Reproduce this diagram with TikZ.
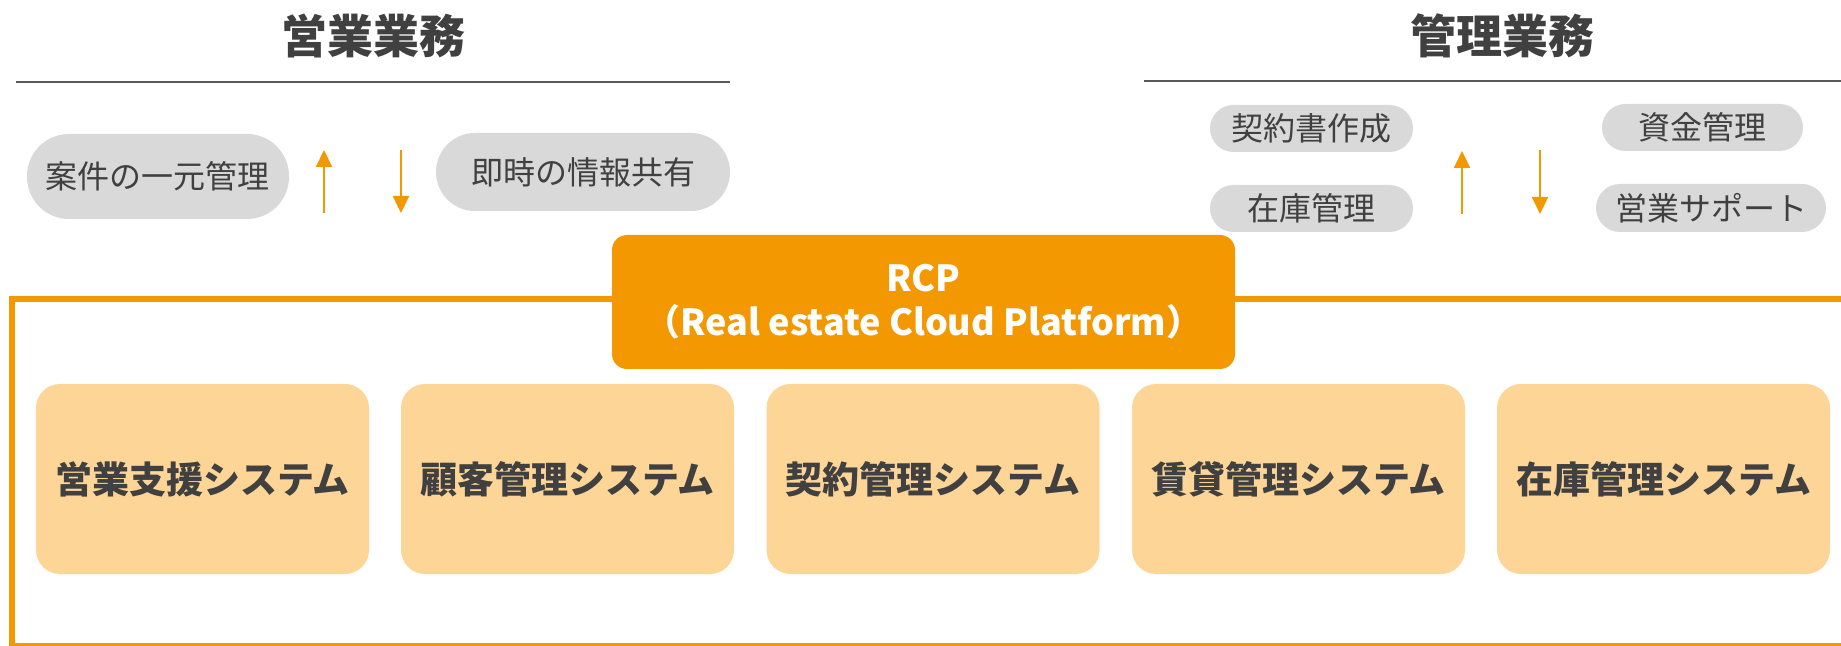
\documentclass[tikz,border=0pt]{standalone}
\usepackage{fontspec}
\setmainfont{Noto Sans CJK JP}
\newfontfamily\jp{Noto Sans CJK JP}
\usetikzlibrary{arrows.meta}
\definecolor{rorange}{HTML}{F39800}
\definecolor{rlight}{HTML}{FDD596}
\definecolor{rgray}{HTML}{D9D9D9}
\definecolor{rtext}{HTML}{404040}
\definecolor{rline}{HTML}{595959}
\begin{document}
\begin{tikzpicture}[x=0.5pt,y=-0.5pt,
  titletext/.style={font=\jp\bfseries\fontsize{23pt}{27pt}\selectfont, text=rtext, inner sep=0pt},
  rule/.style={draw=rline, line width=1pt},
  pill/.style={fill=rgray, text=rtext, font=\jp\fontsize{16pt}{19pt}\selectfont, inner sep=0pt, rounded corners=#1},
  arr/.style={draw=rorange, line width=1pt, -{Triangle[width=8pt,length=8.5pt]}},
  rcpbox/.style={fill=rorange, text=white, font=\jp\bfseries\fontsize{18pt}{22pt}\selectfont, align=center, inner sep=0pt, rounded corners=7.5pt, minimum width=311.5pt, minimum height=67pt},
  sysbox/.style={fill=rlight, text=rtext, font=\jp\bfseries\fontsize{18.5pt}{22pt}\selectfont, inner sep=0pt, rounded corners=12pt, minimum width=166.5pt, minimum height=95pt},
  frame/.style={draw=rorange, line width=2.8pt}
]
\useasboundingbox (0,0) rectangle (1841,646);
% titles
\node[titletext] (t1) at (373,36) {営業業務};
\node[titletext] (t2) at (1502,36) {管理業務};
\coordinate (r1a) at (16,82); \coordinate (r1b) at (730,82);
\coordinate (r2a) at (1144,81); \coordinate (r2b) at (1841,81);
\draw[rule] (r1a) -- (r1b);
\draw[rule] (r2a) -- (r2b);
% left pills
\node[pill=21pt, minimum width=131pt, minimum height=42.5pt] (p1) at (158,176.5) {案件の一元管理};
\node[pill=19.5pt, minimum width=147pt, minimum height=39pt] (p2) at (583,172) {即時の情報共有};
% right pills
\node[pill=11.75pt, minimum width=101.5pt, minimum height=23.5pt] (p3) at (1311.5,128.5) {契約書作成};
\node[pill=11.75pt, minimum width=100.5pt, minimum height=23.5pt] (p4) at (1702.5,127.5) {資金管理};
\node[pill=11.75pt, minimum width=101.5pt, minimum height=23.5pt] (p5) at (1311.5,208.5) {在庫管理};
\node[pill=12pt, minimum width=115pt, minimum height=24pt] (p6) at (1711,208) {営業サポート};
% arrows
\coordinate (a1s) at (324,213); \coordinate (a1e) at (324,150);
\coordinate (a2s) at (401,150); \coordinate (a2e) at (401,213);
\coordinate (a3s) at (1462,214); \coordinate (a3e) at (1462,151);
\coordinate (a4s) at (1540,150); \coordinate (a4e) at (1540,214);
\draw[arr] (a1s) -- (a1e);
\draw[arr] (a2s) -- (a2e);
\draw[arr] (a3s) -- (a3e);
\draw[arr] (a4s) -- (a4e);
% frame
\coordinate (f1) at (1850,299); \coordinate (f2) at (12,299);
\coordinate (f3) at (12,646); \coordinate (f4) at (1850,646);
\draw[frame] (f1) -- (f2) -- (f3) -- (f4);
% RCP
\node[rcpbox] (rcp) at (923.5,302) {RCP\\（Real estate Cloud Platform）};
% systems
\node[sysbox] (s1) at (202.5,479) {営業支援システム};
\node[sysbox] (s2) at (567.5,479) {顧客管理システム};
\node[sysbox] (s3) at (933,479) {契約管理システム};
\node[sysbox] (s4) at (1298.5,479) {賃貸管理システム};
\node[sysbox] (s5) at (1663.5,479) {在庫管理システム};
\end{tikzpicture}
\end{document}
